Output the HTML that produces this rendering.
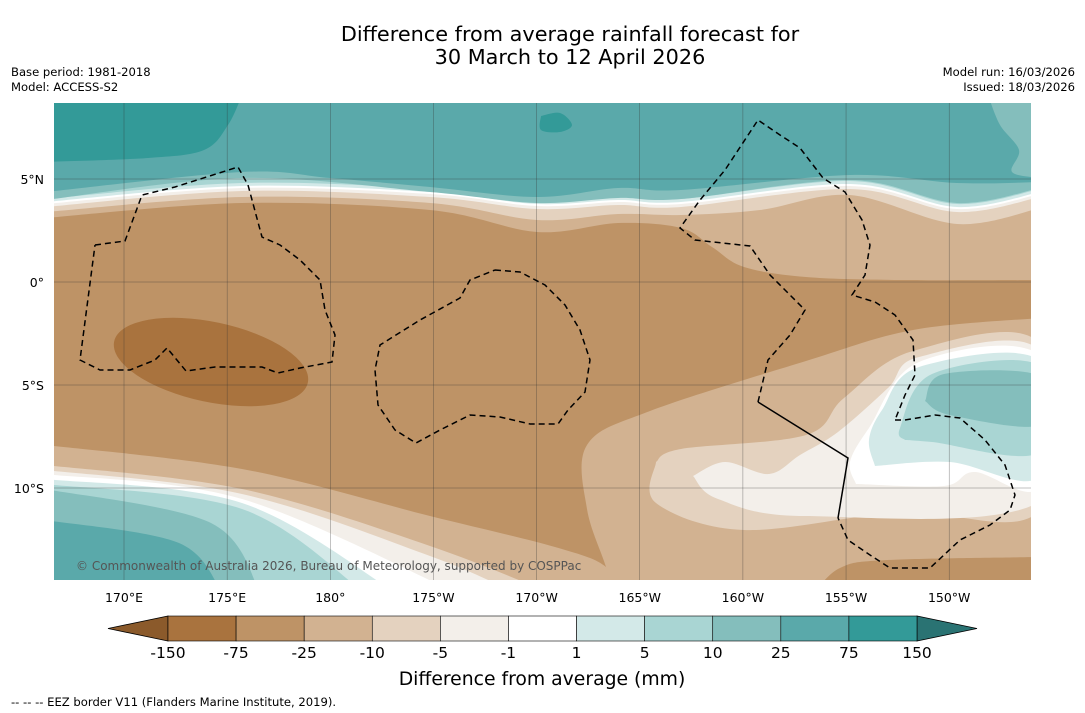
<!DOCTYPE html>
<html><head><meta charset="utf-8"><style>
body{margin:0;background:#fff;font-family:"DejaVu Sans",sans-serif;}
#wrap{position:relative;width:1085px;height:713px;overflow:hidden;background:#fff}
svg text{font-family:"DejaVu Sans",sans-serif;}
</style></head><body>
<div id="wrap">
<svg id="svg" width="1085" height="713" xmlns="http://www.w3.org/2000/svg">
<text x="570" y="41" font-size="20.8" text-anchor="middle">Difference from average rainfall forecast for</text>
<text x="570" y="64" font-size="20.8" text-anchor="middle">30 March to 12 April 2026</text>
<text x="11" y="76" font-size="11.6">Base period: 1981-2018</text>
<text x="11" y="91" font-size="11.6">Model: ACCESS-S2</text>
<text x="1075" y="76" font-size="11.6" text-anchor="end">Model run: 16/03/2026</text>
<text x="1075" y="91" font-size="11.6" text-anchor="end">Issued: 18/03/2026</text>
<defs><clipPath id="mc"><rect x="54" y="103" width="977" height="477"/></clipPath></defs>
<g id="map" clip-path="url(#mc)"></g>
<g id="axes"></g>
<g id="cbar"></g>
<text x="542" y="685" font-size="18.8" text-anchor="middle">Difference from average (mm)</text>
<text x="11" y="706" font-size="11.6">--  --  -- EEZ border V11 (Flanders Marine Institute, 2019).</text>
</svg>
</div>
<script>
const levels=["-150","-75","-25","-10","-5","-1","1","5","10","25","75","150"];
const colors=["#A9733E","#BE9366","#D2B291","#E4D2BF","#F3EFEA","#FFFFFF","#D3E9E8","#A9D5D3","#84BEBC","#5AA9AA","#339A98"];
const lonTicks=["170°E","175°E","180°","175°W","170°W","165°W","160°W","155°W","150°W"];
const lonVals=[170,175,180,185,190,195,200,205,210];
const latTicks=["5°N","0°","5°S","10°S"];
const latVals=[5,0,-5,-10];
const NS="http://www.w3.org/2000/svg";
const X=lon=>124+(lon-170)*20.63;
const Y=lat=>282-lat*20.6;
const map=document.getElementById('map');
function smooth(p){let d="M"+p[0][0]+","+p[0][1];for(let i=0;i<p.length-1;i++){const p0=p[i-1]||p[i],p1=p[i],p2=p[i+1],p3=p[i+2]||p2;
d+=" C"+(p1[0]+(p2[0]-p0[0])/6).toFixed(1)+","+(p1[1]+(p2[1]-p0[1])/6).toFixed(1)+" "+(p2[0]-(p3[0]-p1[0])/6).toFixed(1)+","+(p2[1]-(p3[1]-p1[1])/6).toFixed(1)+" "+p2[0]+","+p2[1];}return d;}
function area(curve,close,fill,name){const e=document.createElementNS(NS,'path');
e.setAttribute('d',smooth(curve)+close+"Z");e.setAttribute('fill',fill);


map.appendChild(e);}
function closed(pts,fill,name){const q=pts.concat([pts[0]]);area(q,"",fill,name);}
const C=colors;
const bg=document.createElementNS(NS,'rect');
bg.setAttribute('x',54);bg.setAttribute('y',103);bg.setAttribute('width',977);bg.setAttribute('height',477);bg.setAttribute('fill',C[1]);


map.appendChild(bg);
const topClose=" L1040,95 L45,95 ";
const L=[[45,218],[242,203],[430,210],[537,232],[618,223],[681,228],[712,247],[744,267],[806,277],[900,280],[1040,280]];
area(L,topClose,C[2],'top-minus10');
const m5=[[45,212],[242,197],[430,203],[537,220],[618,214],[681,215],[760,210],[850,195],[957,224],[1040,208]];
area(m5,topClose,C[3],'top-minus5');
const m1=[[45,207],[242,191],[430,197],[537,209],[618,205],[681,207],[850,189],[957,212],[1040,197]];
area(m1,topClose,C[4],'top-minus1');
area(m1.map(p=>[p[0],p[1]-3]),topClose,C[5],'top-white');
area(m1.map(p=>[p[0],p[1]-5]),topClose,C[6],'top-plus5');
area(m1.map(p=>[p[0],p[1]-8]),topClose,C[7],'top-plus10');
const c25=[[45,200],[242,178],[430,192],[537,203],[618,198],[681,199],[850,180],[957,203],[1040,188]];
area(c25,topClose,C[8],'top-plus25');
const c75=[[45,192],[242,172],[330,178],[430,187],[537,197],[618,188],[681,190],[850,175],[957,183],[1040,182]];
area(c75,topClose,C[9],'top-plus75');
area([[988,95],[1000,125],[1019,150],[1012,172],[1040,178]]," L1040,95 ",C[8],'right-plus25-patch');
area([[242,95],[228,125],[204,150],[148,158],[45,162]]," L45,95 ",C[10],'topleft-plus150');
closed([[541,116],[560,113],[572,125],[560,132],[541,130]],C[10],'small-plus150-blob');
const bl=document.createElementNS(NS,'ellipse');
bl.setAttribute('cx',211);bl.setAttribute('cy',362);bl.setAttribute('rx',99);bl.setAttribute('ry',40);bl.setAttribute('transform','rotate(12 211 362)');bl.setAttribute('fill',C[0]);


map.appendChild(bl);
const bot=" L612,595 L45,595 ";
area([[45,445],[242,469],[430,516],[555,547],[606,567],[612,595]],bot,C[2],'bl-minus10');
area([[45,465],[242,489],[430,546],[555,595]],bot,C[3],'bl-minus5');
area([[45,470],[242,494],[430,556],[520,595]],bot,C[4],'bl-minus1');
area([[45,474],[242,499],[461,595]],bot,C[5],'bl-white');
area([[45,479],[242,503],[399,595]],bot,C[6],'bl-plus5');
area([[45,484],[242,509],[367,595]],bot,C[7],'bl-plus10');
area([[45,489],[211,523],[261,595]],bot,C[8],'bl-plus25');
area([[45,520],[179,543],[223,595]],bot,C[9],'bl-plus75');
area([[612,595],[606,567],[587,509],[587,445],[650,411],[806,361],[913,330],[1040,318]]," L1040,595 ",C[2],'lr-minus10');
area([[812,595],[840,568],[888,560],[1040,557]]," L1040,595 ",C[1],'lr-minus25');
closed([[656,462],[681,449],[806,435],[844,398],[913,351],[1040,344],[1040,510],[900,512],[744,530],[656,503]],C[3],'lr-minus5');
closed([[693,476],[725,462],[769,474],[800,455],[838,432],[888,388],[919,357],[1040,351],[1040,501],[806,516],[718,499]],C[4],'lr-minus1');
closed([[856,484],[850,462],[869,428],[919,362],[1040,356],[1040,486],[975,472],[944,486]],C[5],'lr-white');
closed([[875,466],[869,440],[882,410],[919,367],[1040,361],[1040,476],[950,462]],C[6],'lr-plus5');
closed([[905,440],[900,428],[932,374],[1040,366],[1040,452],[932,442]],C[7],'lr-plus10');
closed([[925,401],[944,374],[1040,376],[1040,425],[950,415]],C[8],'lr-plus25');
const ax=document.getElementById('axes');
lonVals.forEach((v,i)=>{const l=document.createElementNS(NS,'line');
l.setAttribute('x1',X(v));l.setAttribute('x2',X(v));l.setAttribute('y1',103);l.setAttribute('y2',580);l.setAttribute('stroke','#333');l.setAttribute('stroke-width','0.5');l.setAttribute('opacity','0.6');


ax.appendChild(l);
const t=document.createElementNS(NS,'text');t.setAttribute('x',X(v));t.setAttribute('y',602);t.setAttribute('font-size','12.5');t.setAttribute('text-anchor','middle');t.textContent=lonTicks[i];


ax.appendChild(t);});
latVals.forEach((v,i)=>{const l=document.createElementNS(NS,'line');
l.setAttribute('x1',54);l.setAttribute('x2',1031);l.setAttribute('y1',Y(v));l.setAttribute('y2',Y(v));l.setAttribute('stroke','#333');l.setAttribute('stroke-width','0.5');l.setAttribute('opacity','0.6');


ax.appendChild(l);
const t=document.createElementNS(NS,'text');t.setAttribute('x',44);t.setAttribute('y',Y(v)+5);t.setAttribute('font-size','12.5');t.setAttribute('text-anchor','end');t.textContent=latTicks[i];


ax.appendChild(t);});
function dash(pts,name,da){const e=document.createElementNS(NS,'polyline');
e.setAttribute('points',pts.map(p=>p.join(',')).join(' '));e.setAttribute('fill','none');e.setAttribute('stroke','#000');e.setAttribute('stroke-width','1.5');if(da)e.setAttribute('stroke-dasharray','6,4');


ax.appendChild(e);}
dash([[95,245],[125,241],[142,195],[175,187],[238,167],[248,185],[262,237],[280,245],[300,260],[320,280],[325,310],[335,335],[332,362],[300,368],[278,373],[262,367],[215,367],[186,371],[167,348],[155,360],[130,370],[100,370],[80,360],[95,245]],'eez-border-west',1);
dash([[495,270],[520,272],[545,285],[565,305],[580,330],[590,360],[585,392],[568,410],[558,424],[530,424],[500,417],[470,415],[440,430],[416,443],[395,430],[378,405],[375,370],[380,345],[420,320],[460,298],[470,280],[495,270]],'eez-border-central',1);
dash([[758,402],[768,360],[790,335],[805,310],[785,290],[770,275],[750,246],[695,240],[680,228],[700,200],[725,170],[758,120],[780,135],[800,148],[823,178],[845,192],[862,220],[870,245],[865,275],[852,295],[875,302],[895,315],[913,340],[915,375],[905,395],[895,420]],'eez-border-east',1);
dash([[895,420],[905,420],[935,415],[960,418],[985,440],[1005,465],[1015,495],[1010,510],[990,525],[960,540],[930,568],[890,568],[870,555],[848,540],[838,518]],'eez-border-southeast',1);
dash([[838,518],[848,458],[758,402]],'eez-border-solid',0);
const cp=document.createElementNS(NS,'text');cp.setAttribute('x',76);cp.setAttribute('y',570);cp.setAttribute('font-size','12');cp.setAttribute('fill','#555');cp.textContent='© Commonwealth of Australia 2026, Bureau of Meteorology, supported by COSPPac';


ax.appendChild(cp);
const cb=document.getElementById('cbar');
const x0=168,x1=917,cy0=616,cy1=641,bw=(x1-x0)/colors.length;
function poly(pts,fill,name){const e=document.createElementNS(NS,'polygon');e.setAttribute('points',pts);e.setAttribute('fill',fill);e.setAttribute('stroke','#000');e.setAttribute('stroke-width','0.8');


cb.appendChild(e);}
poly(`108,628.5 ${x0},${cy0} ${x0},${cy1}`,'#8B5A2B','colorbar-min-arrow');
poly(`977,628.5 ${x1},${cy0} ${x1},${cy1}`,'#2A7373','colorbar-max-arrow');
colors.forEach((c,i)=>{const r=document.createElementNS(NS,'rect');r.setAttribute('x',x0+i*bw);r.setAttribute('y',cy0);r.setAttribute('width',bw);r.setAttribute('height',cy1-cy0);r.setAttribute('fill',c);r.setAttribute('stroke','#000');r.setAttribute('stroke-width','0.6');


cb.appendChild(r);});
levels.forEach((lv,i)=>{const t=document.createElementNS(NS,'text');t.setAttribute('x',x0+i*bw);t.setAttribute('y',658);t.setAttribute('font-size','15.5');t.setAttribute('text-anchor','middle');t.textContent=lv;


cb.appendChild(t);});
</script>
</body></html>
